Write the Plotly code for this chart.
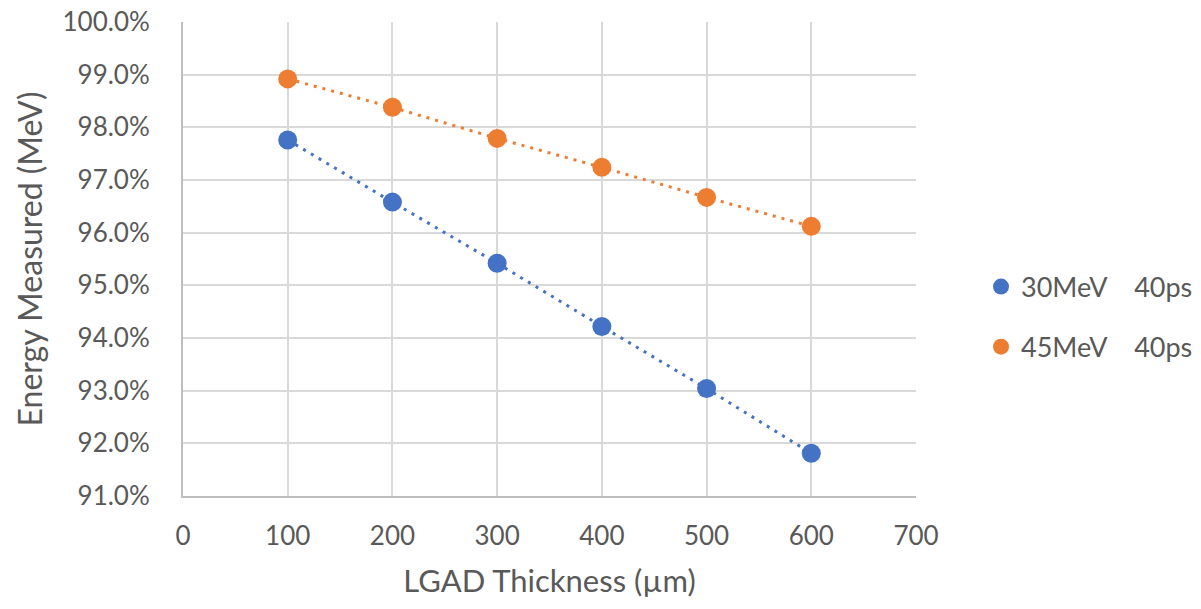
import plotly.graph_objects as go

thickness = [100, 200, 300, 400, 500, 600]
e30 = [0.9776, 0.9658, 0.9542, 0.9422, 0.9304, 0.9181]
e45 = [0.9892, 0.9838, 0.9779, 0.9724, 0.9667, 0.9612]
names = ["30MeV" + "\u00a0" * 4 + "40ps", "45MeV" + "\u00a0" * 4 + "40ps"]
colors = ["#4472C4", "#ED7D31"]

FONT = "Lato, 'Open Sans', sans-serif"
GREY = "#595959"
fig = go.Figure()
for i, (ys, nm, c) in enumerate([(e30, names[0], colors[0]), (e45, names[1], colors[1])]):
    fig.add_trace(go.Scatter(
        x=thickness, y=ys, mode="lines", showlegend=False, hoverinfo="skip",
        line=dict(color=c, width=3, dash="3px,6px"),
    ))
    fig.add_trace(go.Scatter(
        x=thickness, y=ys, name=nm, mode="markers",
        legendgroup=f"g{i}",
        marker=dict(color=c, size=19),
    ))

fig.update_layout(
    width=1201, height=609,
    margin=dict(l=183, r=285, t=22, b=113, autoexpand=False),
    paper_bgcolor="white", plot_bgcolor="white",
    font=dict(family=FONT, color=GREY, size=26),
    showlegend=True,
    legend=dict(x=(981 - 183) / 733, y=(496 - 317) / 474, xanchor="left", yanchor="middle",
                font=dict(size=27, color=GREY), tracegroupgap=22,
                itemsizing="trace", bgcolor="rgba(0,0,0,0)"),
    xaxis=dict(range=[0, 700], dtick=100, showgrid=True, gridcolor="#D9D9D9", gridwidth=1.5,
               showline=True, linecolor="#BFBFBF", linewidth=2, zeroline=False,
               ticks="", ticklabelstandoff=16, tickfont=dict(size=26, color=GREY),
               title=dict(text="LGAD Thickness (µm)", font=dict(size=31, color=GREY), standoff=20)),
    yaxis=dict(range=[0.91, 1.0], dtick=0.01, tickformat=".1%", showgrid=True, gridcolor="#D9D9D9", gridwidth=1.5,
               showline=True, linecolor="#BFBFBF", linewidth=2, zeroline=False,
               ticks="", ticklabelstandoff=26, tickfont=dict(size=26, color=GREY),
               title=dict(text="Energy Measured (MeV)", font=dict(size=32, color=GREY), standoff=10)),
)
fig.write_html("out.html")
